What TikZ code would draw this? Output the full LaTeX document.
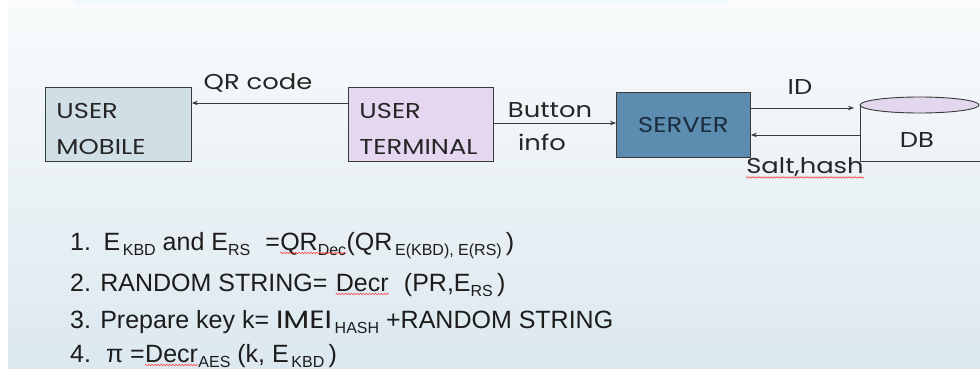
\documentclass[tikz,border=0pt]{standalone}
\usepackage{fontspec}
\setmainfont{Liberation Sans}
\newfontfamily\diagfont[FakeStretch=1.2]{Poppins}
\usetikzlibrary{arrows.meta,decorations.pathmorphing}
\definecolor{mobfill}{HTML}{CFDFE5}
\definecolor{termfill}{HTML}{E6D7F1}
\definecolor{servfill}{HTML}{5C8DB1}
\definecolor{dbfill}{HTML}{E3D6EF}
\definecolor{linec}{HTML}{3A3A3A}
\definecolor{txt}{HTML}{262626}
\definecolor{eqtxt}{HTML}{1C1C1C}
\definecolor{servtxt}{HTML}{1B2D3F}
\definecolor{bgtop}{HTML}{F9FBFC}
\definecolor{bgbot}{HTML}{DCE8EF}
\definecolor{strip}{HTML}{EEFAFC}
\newcommand\sbs[1]{\raisebox{-0.2em}{\fontsize{16}{16}\selectfont #1}}
\begin{document}
\begin{tikzpicture}[x=1pt,y=-1pt,
 box/.style={draw=linec, line width=0.9pt, minimum height=74pt, inner xsep=11pt, inner ysep=0pt,
   text width=#1, align=left, anchor=north west, font=\diagfont\fontsize{21.5}{36}\selectfont, text=txt},
 lbl/.style={font=\diagfont\fontsize{21.5}{21.5}\selectfont, text=txt, inner sep=0pt},
 arr/.style={draw=linec, line width=0.8pt, -{Stealth[length=6pt,width=4.5pt]}},
 eq/.style={font=\fontsize{25}{25}\selectfont, text=eqtxt, inner sep=0pt, anchor=base west},
 wavy/.style={draw=red!75!white, line width=0.6pt, decorate,
   decoration={snake, amplitude=0.7pt, segment length=3pt}}]
\useasboundingbox (0,0) rectangle (980,369);
\fill[white] (0,0) rectangle (980,369);
\shade[top color=bgtop, bottom color=bgbot] (8,0) rectangle (980,369);
\fill[strip] (75,0) rectangle (728,4);
% boxes
\node[box=124pt, fill=mobfill] (mobile) at (45,87) {\rule{0pt}{24pt}USER\\MOBILE};
\node[box=123pt, fill=termfill] (terminal) at (348,87) {\rule{0pt}{24pt}USER\\TERMINAL};
\node[draw=linec, line width=0.9pt, fill=servfill, minimum width=134pt, minimum height=65pt,
  inner sep=0pt, anchor=north west, font=\diagfont\fontsize{21.5}{21.5}\selectfont, text=servtxt]
  (server) at (616,92) {SERVER};
% database
\node[inner sep=0pt, minimum width=120pt, minimum height=56pt, anchor=north west] (dbbody) at (860,105) {};
\draw[linec, line width=0.9pt] (dbbody.north west) -- (dbbody.south west) -- (dbbody.south east);
\draw[linec, line width=0.9pt, fill=dbfill] (919.5,105) ellipse [x radius=59.5pt, y radius=8pt];
\node[lbl] (dbtext) at (917,140) {DB};
% helper coordinates for arrow heights
\coordinate (yqr) at (0,103);
\coordinate (ybtn) at (0,123);
\coordinate (yid) at (0,108);
\coordinate (ysalt) at (0,135);
% connectors
\draw[arr] (terminal.west |- yqr) -- (mobile.east |- yqr);
\draw[arr] (terminal.east |- ybtn) -- (server.west |- ybtn);
\draw[arr, shorten >=6pt] (server.east |- yid) -- (dbbody.west |- yid);
\draw[arr] (dbbody.west |- ysalt) -- (server.east |- ysalt);
% connector labels
\node[lbl] (qrlbl) at (258,83) {QR code};
\node[lbl] (btn) at (550,110) {Button};
\node[lbl] (info) at (542,142) {info};
\node[lbl] (idlbl) at (800,87) {ID};
\node[lbl] (salt) at (805,167) {Salt,hash};
\draw[wavy] ([yshift=-4pt]salt.base west) -- ([yshift=-4pt]salt.base east);
% equations
\node[eq] (l1a) at (70,250) {1.\hspace{0.5em}E\sbs{\,KBD} and E\sbs{RS}\hspace{0.6em}=};
\node[eq] (l1b) at (l1a.base east) {QR\sbs{Dec}};
\node[eq] (l1c) at (l1b.base east) {(QR\sbs{\,E(KBD), E(RS)}\,)};
\draw[wavy] ([yshift=-3pt]l1b.base west) -- ([yshift=-3pt]l1b.base east);
\node[eq] (l2a) at (70,291) {2. RANDOM STRING=};
\node[eq] (l2b) at ([xshift=8pt]l2a.base east) {Decr};
\node[eq] (l2c) at ([xshift=15pt]l2b.base east) {(PR,E\sbs{RS}\,)};
\draw[wavy] ([yshift=-3pt]l2b.base west) -- ([yshift=-3pt]l2b.base east);
\node[eq] (l3) at (70,328) {3. Prepare key k= {\diagfont IMEI}\sbs{\,HASH} +RANDOM STRING};
\node[eq] (l4a) at (70,362) {4.\hspace{0.6em}π =};
\node[eq] (l4b) at (l4a.base east) {Decr};
\node[eq] (l4c) at (l4b.base east) {\sbs{AES} (k, E\sbs{\,KBD}\,)};
\draw[wavy] ([yshift=-3pt]l4b.base west) -- ([yshift=-3pt]l4b.base east);
\end{tikzpicture}
\end{document}
